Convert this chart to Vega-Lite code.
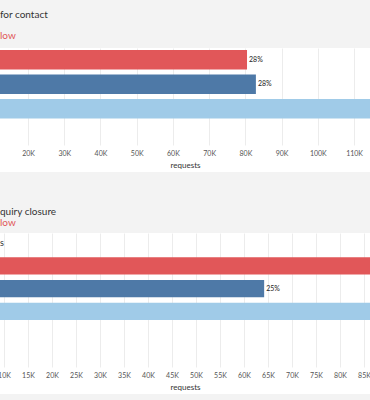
{
  "$schema": "https://vega.github.io/schema/vega-lite/v6.json",
  "background": "white",
  "padding": {"left": -3, "top": 0, "right": 0, "bottom": 0},
  "spacing": 0,
  "config": {
    "view": {"stroke": null},
    "font": "Lato",
    "axis": {
      "labelFont": "Lato", "labelFontSize": 7, "labelColor": "#555",
      "titleFont": "Lato", "titleFontSize": 8, "titleFontWeight": "normal", "titleColor": "#333",
      "domain": false, "ticks": false, "tickSize": 0, "gridColor": "#ececec",
      "labelPadding": 4, "titlePadding": 5, "labelFlush": false, "titleLineHeight": 3
    },
    "title": {"font": "Lato", "subtitleFont": "Lato", "fontWeight": "normal", "anchor": "start", "fontSize": 10, "subtitleFontSize": 10, "color": "#333", "subtitleColor": "#e15759"}
  },
  "vconcat": [
    {
      "width": 370, "height": 48,
      "title": {"text": "for contact", "subtitle": "low", "offset": -41, "subtitlePadding": 11},
      "data": {"values": [{}]},
      "mark": {"type": "rect", "color": "#f3f3f3"}
    },
    {
      "width": 370, "height": 97,
      "data": {"values": [
        {"series": "low", "requests": 80450, "label": "28%"},
        {"series": "other", "requests": 82900, "label": "28%"},
        {"series": "total", "requests": 291500, "label": ""}
      ]},
      "encoding": {
        "y": {"field": "series", "type": "nominal", "axis": null,
              "scale": {"domain": ["low", "other", "total", "none"], "paddingInner": 0.21, "paddingOuter": 0.083}},
        "x": {"field": "requests", "type": "quantitative", "title": ["requests", ""],
              "scale": {"domain": [12260, 114400], "nice": false, "zero": false},
              "axis": {"labelExpr": "datum.value / 1000 + 'K'", "values": [20000, 30000, 40000, 50000, 60000, 70000, 80000, 90000, 100000, 110000]}}
      },
      "layer": [
        {"mark": {"type": "bar", "clip": true},
         "encoding": {"color": {"field": "series", "type": "nominal", "legend": null,
           "scale": {"domain": ["low", "other", "total"], "range": ["#e15759", "#4e79a7", "#a0cbe8"]}}}},
        {"mark": {"type": "text", "align": "left", "dx": 2, "fontSize": 7, "color": "#222", "clip": true},
         "encoding": {"text": {"field": "label"}}}
      ]
    },
    {
      "width": 370, "height": 61,
      "title": {"text": "quiry closure", "subtitle": "low", "offset": -56, "subtitlePadding": 1},
      "data": {"values": [{}]},
      "mark": {"type": "rect", "color": "#f3f3f3"}
    },
    {
      "width": 370, "height": 134,
      "data": {"values": [
        {"series": "low", "requests": 100000, "label": ""},
        {"series": "other", "requests": 64200, "label": "25%"},
        {"series": "total", "requests": 257000, "label": ""}
      ]},
      "encoding": {
        "y": {"field": "series", "type": "nominal", "axis": null,
              "scale": {"domain": ["hdr", "low", "other", "total", "e1", "e2"], "paddingInner": 0.24, "paddingOuter": 0.06}},
        "x": {"field": "requests", "type": "quantitative", "title": ["requests", ""],
              "scale": {"domain": [9170, 86250], "nice": false, "zero": false},
              "axis": {"labelExpr": "datum.value / 1000 + 'K'", "values": [10000, 15000, 20000, 25000, 30000, 35000, 40000, 45000, 50000, 55000, 60000, 65000, 70000, 75000, 80000, 85000]}}
      },
      "layer": [
        {"mark": {"type": "bar", "clip": true},
         "encoding": {"color": {"field": "series", "type": "nominal", "legend": null,
           "scale": {"domain": ["low", "other", "total"], "range": ["#e15759", "#4e79a7", "#a0cbe8"]}}}},
        {"mark": {"type": "text", "align": "left", "dx": 2, "fontSize": 7, "color": "#222", "clip": true},
         "encoding": {"text": {"field": "label"}}},
        {"data": {"values": [{"series": "hdr", "requests": 10000, "note": "s"}]},
         "mark": {"type": "text", "align": "right", "fontSize": 9, "color": "#333"},
         "encoding": {"text": {"field": "note"}}}
      ]
    },
    {
      "width": 370, "height": 8,
      "data": {"values": [{}]},
      "mark": {"type": "rect", "color": "#f3f3f3"}
    }
  ]
}
